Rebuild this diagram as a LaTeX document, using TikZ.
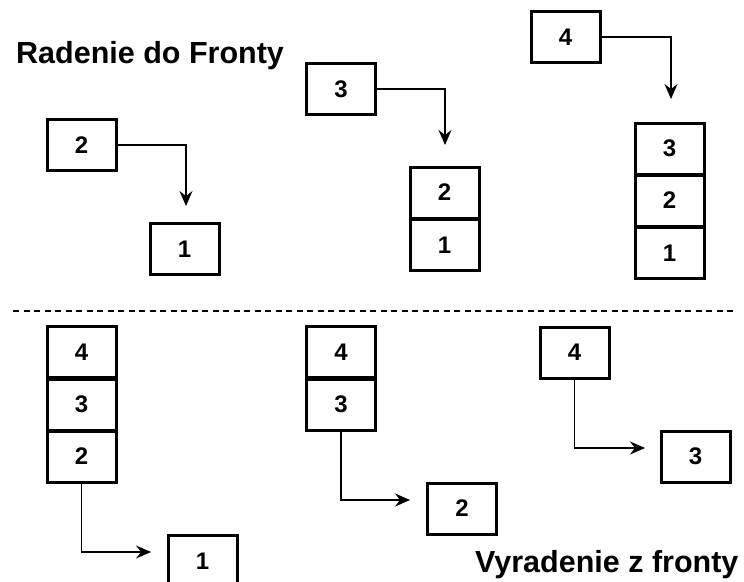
\documentclass[tikz,border=0pt]{standalone}
\usepackage{fontspec}
\setmainfont{Liberation Sans}
\usetikzlibrary{arrows.meta}
\begin{document}
\begin{tikzpicture}[x=1pt,y=-1pt,
  cell/.style={draw, line width=3pt, minimum width=69pt, minimum height=51pt, inner sep=0pt,
    font=\fontsize{24}{24}\selectfont\bfseries},
  conn/.style={draw, line width=1.3pt, -{Stealth[length=15pt,width=13pt,inset=5pt]}},
  ttl/.style={anchor=base west, inner sep=0pt, font=\fontsize{30.5}{30.5}\selectfont\bfseries},
  sep/.style={draw, line width=1.2pt, dash pattern=on 6pt off 4.5pt}]
\clip (0,0) rectangle (744,581);
\fill[white] (0,0) rectangle (744,581);
% titles
\node[ttl] (t1) at (16,63) {Radenie do Fronty};
\node[ttl] (t2) at (475,572) {Vyradenie z fronty};
% top section
\node[cell] (T2) at (81.5,145) {2};
\node[cell] (T1) at (184.5,249) {1};
\node[cell] (T3) at (341,89) {3};
\node[cell] (A2) at (444.5,192.5) {2};
\node[cell] (A1) at (444.5,245) {1};
\node[cell] (T4) at (565.5,37) {4};
\node[cell] (B3) at (669.5,148.5) {3};
\node[cell] (B2) at (669.5,200.5) {2};
\node[cell] (B1) at (669.5,253) {1};
\coordinate (a1) at (186,206);
\coordinate (a2) at (445,145);
\coordinate (a3) at (671,99);
\draw[conn] (T2.east) -| (a1);
\draw[conn] (T3.east) -| (a2);
\draw[conn] (T4.east) -| (a3);
% separator
\coordinate (s1) at (13,311);
\coordinate (s2) at (735,311);
\draw[sep] (s1) -- (s2);
% bottom section
\node[cell] (C4) at (81.5,352) {4};
\node[cell] (C3) at (81.5,404.5) {3};
\node[cell] (C2) at (81.5,456.5) {2};
\node[cell] (E1) at (202.5,561) {1};
\node[cell] (D4) at (341,352) {4};
\node[cell] (D3) at (341,404.5) {3};
\node[cell] (E2) at (462,508.5) {2};
\node[cell] (F4) at (574.5,352.5) {4};
\node[cell] (E3) at (695.5,456.5) {3};
\coordinate (b1) at (151,552);
\coordinate (b2) at (410,500);
\coordinate (b3) at (645,448);
\draw[conn] (C2.south) |- (b1);
\draw[conn] (D3.south) |- (b2);
\draw[conn] (F4.south) |- (b3);
\end{tikzpicture}
\end{document}
